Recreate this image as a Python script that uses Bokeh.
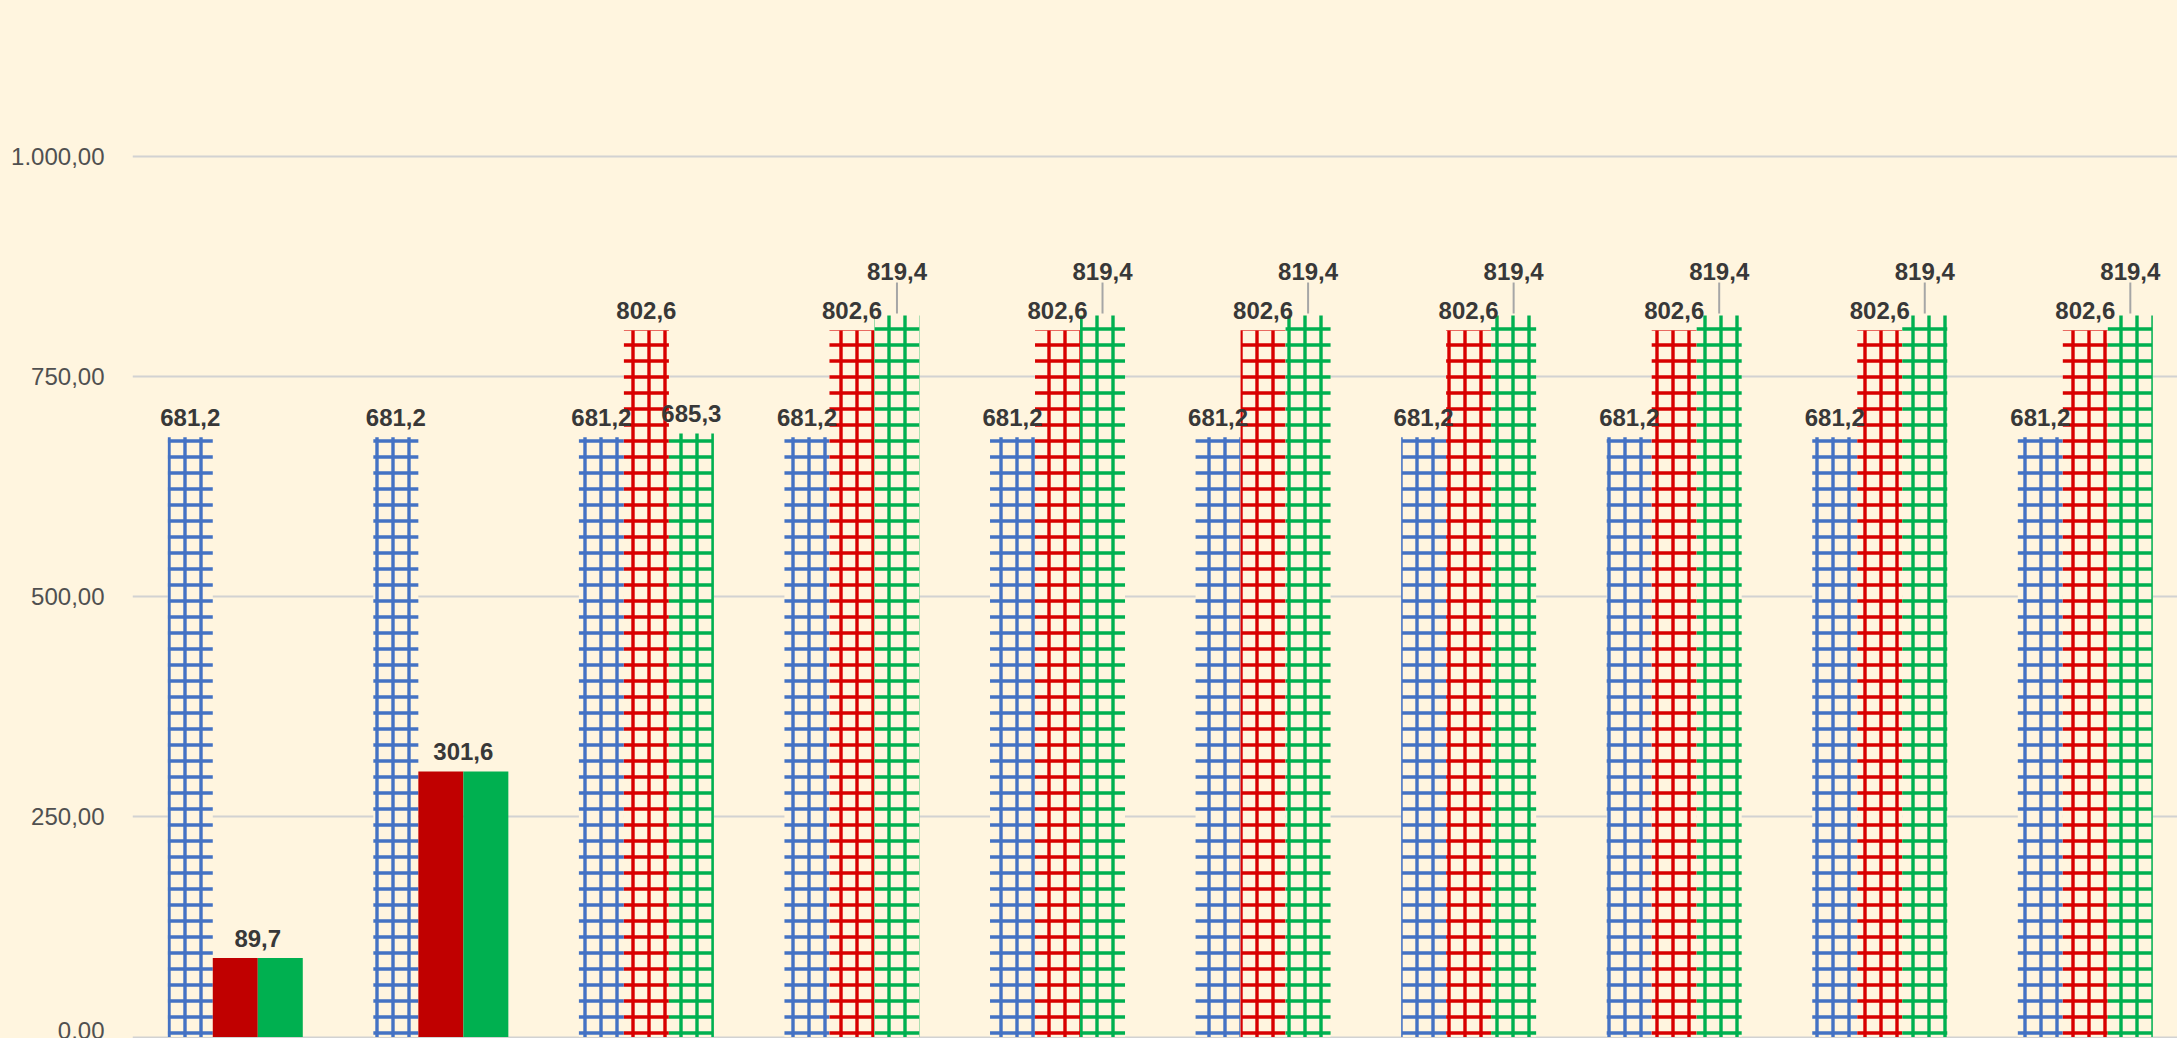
from bokeh.plotting import figure
from bokeh.models import Range1d, FixedTicker, GlobalInlineStyleSheet
from bokeh.core.properties import value
from bokeh.embed import file_html
from bokeh.resources import INLINE

# ---------------- data ----------------
categories = ["1", "2", "3", "4", "5", "6", "7", "8", "9", "10"]
blue_values = [681.2, 681.2, 681.2, 681.2, 681.2, 681.2, 681.2, 681.2, 681.2, 681.2]
red_values = [89.7, 301.6, 802.6, 802.6, 802.6, 802.6, 802.6, 802.6, 802.6, 802.6]
green_values = [89.7, 301.6, 685.3, 819.4, 819.4, 819.4, 819.4, 819.4, 819.4, 819.4]
y_ticks = [0, 250, 500, 750, 1000]
y_tick_labels = ["0,00", "250,00", "500,00", "750,00", "1.000,00"]

# ---------------- style ----------------
BG = "#FFF5DF"
BLUE = "#4472C4"
RED_SOLID = "#C00000"
RED_HATCH = "#D80000"
GREEN = "#00B050"
TEXT = "#383838"
TICK_TEXT = "#505050"
FONT = "Liberation Sans"
red_solid = [True, True, False, False, False, False, False, False, False, False]
green_solid = [True, True, False, False, False, False, False, False, False, False]

W, H = 2177, 1038
FRAME_LEFT = 132
ZERO_Y = 1036.5           # pixel row of value 0
TOP_Y = 156.0             # pixel row of value 1000
BAND_PX = 205.56          # pixels per category
PX_PER_UNIT = (ZERO_Y - TOP_Y) / 1000.0
EXTRA_TOP = 3             # px above the 1000 line so it stays visible
frame_w = W - FRAME_LEFT
x_end = frame_w / BAND_PX
y_end = 1000 + EXTRA_TOP / PX_PER_UNIT
y_start = -(H - ZERO_Y) / PX_PER_UNIT
BAR_W = 45.0 / BAND_PX

p = figure(width=W, height=H, output_backend="svg", toolbar_location=None,
           x_range=Range1d(0, x_end), y_range=Range1d(y_start, y_end),
           min_border_left=FRAME_LEFT, min_border_top=int(TOP_Y - EXTRA_TOP),
           min_border_right=0, min_border_bottom=0)
p.background_fill_color = BG
p.border_fill_color = BG
p.outline_line_color = None
p.stylesheets = [GlobalInlineStyleSheet(css="html, body { background: %s; }" % BG)]

p.xaxis.visible = False
p.xgrid.grid_line_color = None
p.ygrid.grid_line_color = "#D2D2D2"
p.ygrid.grid_line_width = 2
p.yaxis.ticker = FixedTicker(ticks=y_ticks)
p.yaxis.major_label_overrides = {t: l for t, l in zip(y_ticks, y_tick_labels)}
p.yaxis.axis_line_color = None
p.yaxis.major_tick_line_color = None
p.yaxis.minor_tick_line_color = None
p.yaxis.major_label_standoff = 22
p.yaxis.major_label_text_font = FONT
p.yaxis.major_label_text_font_size = "24px"
p.yaxis.major_label_text_color = TICK_TEXT

n = len(categories)
centers = [i + 0.5 for i in range(n)]


def draw_series(vals, offset, solid_flags, solid_color, hatch_color):
    xs = [c + offset for c in centers]
    s_x = [x for x, s in zip(xs, solid_flags) if s]
    s_t = [v for v, s in zip(vals, solid_flags) if s]
    h_x = [x for x, s in zip(xs, solid_flags) if not s]
    h_t = [v for v, s in zip(vals, solid_flags) if not s]
    if s_x:
        p.vbar(x=s_x, top=s_t, bottom=0, width=BAR_W,
               fill_color=solid_color, line_color=None)
    if h_x:
        p.vbar(x=h_x, top=h_t, bottom=0, width=BAR_W,
               fill_color=BG, line_color=None,
               hatch_pattern="+", hatch_color=hatch_color,
               hatch_scale=16, hatch_weight=3.4)


draw_series(blue_values, -BAR_W, [False] * n, BLUE, BLUE)
draw_series(red_values, 0.0, red_solid, RED_SOLID, RED_HATCH)
draw_series(green_values, BAR_W, green_solid, GREEN, GREEN)


def fmt(v):
    return ("%.1f" % v).replace(".", ",")


# labels
lab_x, lab_y, lab_t = [], [], []
lift_x, lift_y, lift_t = [], [], []
lead_x, lead_y0, lead_y1 = [], [], []
for i in range(n):
    c = centers[i]
    lab_x.append(c - BAR_W); lab_y.append(blue_values[i]); lab_t.append(fmt(blue_values[i]))
    r, g = red_values[i], green_values[i]
    if r == g:
        lab_x.append(c + BAR_W / 2); lab_y.append(r); lab_t.append(fmt(r))
    else:
        lab_x.append(c); lab_y.append(r); lab_t.append(fmt(r))
        if g > r and g - r < 40:
            lift_x.append(c + BAR_W); lift_y.append(g); lift_t.append(fmt(g))
            lead_x.append(c + BAR_W)
            lead_y0.append(g + 2 / PX_PER_UNIT)
            lead_y1.append(g + 33 / PX_PER_UNIT)
        else:
            lab_x.append(c + BAR_W); lab_y.append(g); lab_t.append(fmt(g))

label_kw = dict(text_align="center", text_baseline="alphabetic",
                text_font=value(FONT), text_font_size="24px",
                text_font_style="bold", text_color=TEXT)
p.text(x=lab_x, y=lab_y, text=lab_t, y_offset=-20, **label_kw)
p.text(x=lift_x, y=lift_y, text=lift_t, y_offset=-44, **label_kw)
p.segment(x0=lead_x, y0=lead_y0, x1=lead_x, y1=lead_y1,
          line_color="#A6A6A6", line_width=2)

open("out.html", "w").write(file_html(p, INLINE))
